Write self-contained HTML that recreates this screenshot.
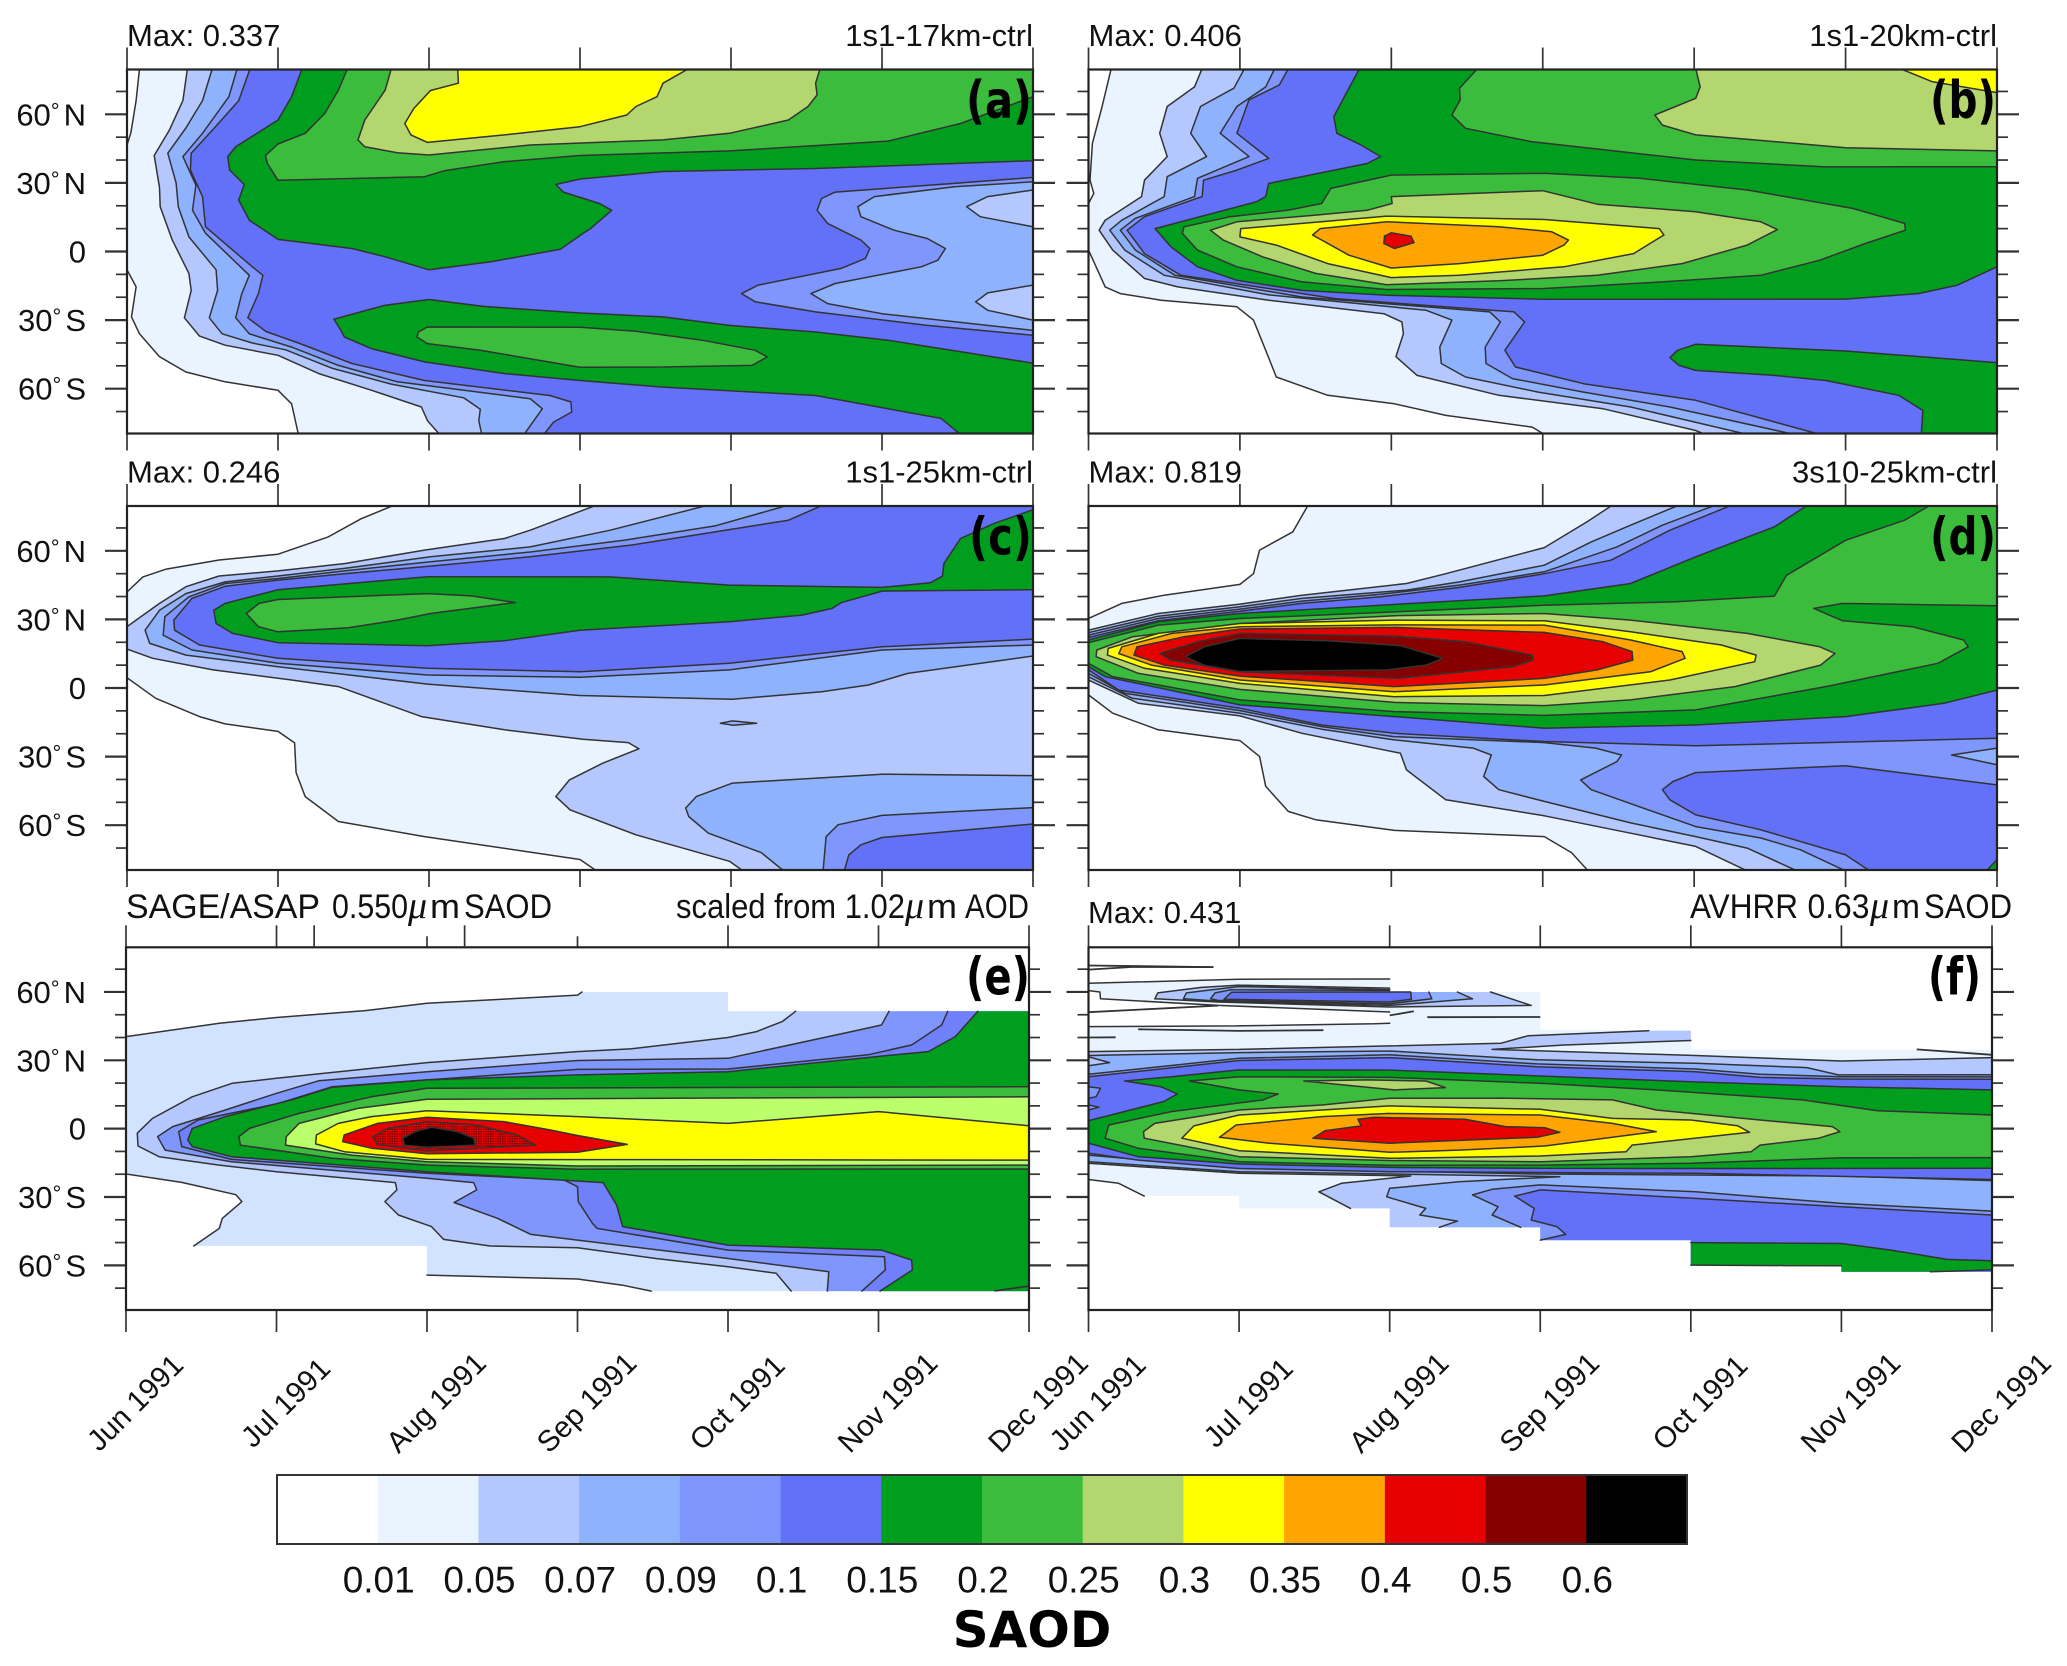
<!DOCTYPE html>
<html lang="en">
<head>
<meta charset="utf-8">
<title>SAOD zonal mean panels</title>
<style>
html,body{margin:0;padding:0;background:#fff;width:2067px;height:1666px;overflow:hidden}
svg{display:block}
text{font-family:"Liberation Sans",sans-serif;fill:#111}
.ttl{font-size:31px}
.big{font-size:34px}
.lab{font-family:"DejaVu Sans","Liberation Sans",sans-serif;font-size:52px;font-weight:bold;text-anchor:end;fill:#000}
.mu{font-family:"Liberation Serif",serif;font-style:italic;font-size:38px}
</style>
</head>
<body>
<svg id="chart" xmlns="http://www.w3.org/2000/svg" width="2067" height="1666" viewBox="0 0 2067 1666">
<defs>
<pattern id="stipple" width="2.4" height="2.4" patternUnits="userSpaceOnUse">
<rect width="2.4" height="2.4" fill="#e60000"/>
<circle cx="1.2" cy="1.2" r="0.8" fill="#6a0000"/>
</pattern>
</defs>
<g id="plots"></g>

<text class="ttl" x="127" y="46">Max: 0.337</text>
<text class="ttl" x="1033" y="46" text-anchor="end">1s1-17km-ctrl</text>
<text class="lab" x="1032" y="118" textLength="66" lengthAdjust="spacingAndGlyphs">(a)</text>

<text class="ttl" x="1088.5" y="46">Max: 0.406</text>
<text class="ttl" x="1997" y="46" text-anchor="end">1s1-20km-ctrl</text>
<text class="lab" x="1996" y="118" textLength="66" lengthAdjust="spacingAndGlyphs">(b)</text>

<text class="ttl" x="127" y="482.7">Max: 0.246</text>
<text class="ttl" x="1033" y="482.7" text-anchor="end">1s1-25km-ctrl</text>
<text class="lab" x="1032" y="554.6" textLength="63" lengthAdjust="spacingAndGlyphs">(c)</text>

<text class="ttl" x="1088.5" y="482.7">Max: 0.819</text>
<text class="ttl" x="1997" y="482.7" text-anchor="end">3s10-25km-ctrl</text>
<text class="lab" x="1996" y="554.6" textLength="66" lengthAdjust="spacingAndGlyphs">(d)</text>

<g>
<text class="big" x="126" y="918" textLength="194" lengthAdjust="spacingAndGlyphs">SAGE/ASAP</text>
<text class="big" x="332" y="918" textLength="76" lengthAdjust="spacingAndGlyphs">0.550</text>
<text class="mu" x="408" y="918">μ</text>
<text class="big" x="430" y="918" textLength="30" lengthAdjust="spacingAndGlyphs">m</text>
<text class="big" x="464" y="918" textLength="88" lengthAdjust="spacingAndGlyphs">SAOD</text>
</g>
<g>
<text class="big" x="676" y="918" textLength="229" lengthAdjust="spacingAndGlyphs">scaled from 1.02</text>
<text class="mu" x="905" y="918">μ</text>
<text class="big" x="927" y="918" textLength="30" lengthAdjust="spacingAndGlyphs">m</text>
<text class="big" x="965" y="918" textLength="64" lengthAdjust="spacingAndGlyphs">AOD</text>
</g>
<text class="lab" x="1030" y="994.5" textLength="64" lengthAdjust="spacingAndGlyphs">(e)</text>

<text class="ttl" x="1088" y="923">Max: 0.431</text>
<g>
<text class="big" x="1690" y="918" textLength="108" lengthAdjust="spacingAndGlyphs">AVHRR</text>
<text class="big" x="1807.5" y="918" textLength="62" lengthAdjust="spacingAndGlyphs">0.63</text>
<text class="mu" x="1870" y="918">μ</text>
<text class="big" x="1892" y="918" textLength="28" lengthAdjust="spacingAndGlyphs">m</text>
<text class="big" x="1924" y="918" textLength="88" lengthAdjust="spacingAndGlyphs">SAOD</text>
</g>
<text class="lab" x="1981" y="994.5" textLength="53" lengthAdjust="spacingAndGlyphs">(f)</text>

<g id="colorbar"></g>
<text x="1032" y="1647" text-anchor="middle" font-size="50" font-weight="bold" style="fill:#000;font-family:'DejaVu Sans','Liberation Sans',sans-serif">SAOD</text>
</svg>

<script>
// Axis content
const monthLabels = ['Jun 1991','Jul 1991','Aug 1991','Sep 1991','Oct 1991','Nov 1991','Dec 1991'];
const latMajor = [60,30,0,-30,-60];
const latMajorLabels = ['60|N','30|N','0','30|S','60|S'];
const latMinor = [70,50,40,20,10,-10,-20,-40,-50,-70];
const saodLevels = ['0.01','0.05','0.07','0.09','0.1','0.15','0.2','0.25','0.3','0.35','0.4','0.5','0.6'];
const levelColors = ['#ffffff','#eaf4ff','#b4c8ff','#8fb2ff','#7f96ff','#6271f8','#009e1e','#3cbc3c','#b4d66e','#ffff00','#ffa500','#e60000','#870000','#000000'];

// All contour vertices are flat [month-since-Jun-1, latitude, ...] pairs.
// Panel (a)
const a1=[.083,80,.06,66,.026,52,0,46.6,0,-8,.06,-15.5,.03,-28.6,.083,-36,.215,-46,.39,-52.7,.65,-57,1,-60.7,1.09,-66.6,1.135,-80,6,-80,6,80];
const a2=[.40,80,.37,66,.28,53,.18,42,.215,28,.22,19.6,.30,5,.41,-9.6,.425,-17,.38,-29,.48,-37,.65,-41,1,-45.4,1.27,-53.4,1.62,-60.7,1.95,-68,1.99,-74,2.07,-80,6,-80,6,80];
const a3=[.565,80,.5,66,.39,54,.27,43,.325,30,.34,19.6,.41,6.4,.59,-8,.60,-17,.545,-29,.63,-36,.83,-40,1.05,-43,1.355,-51,1.75,-58,2.23,-64,2.34,-69,2.33,-74,2.35,-80,6,-80,6,80];
const a4=[.73,80,.675,67.7,.5,51.7,.37,41.5,.456,29,.434,18,.52,8,.81,-10.4,.76,-18.4,.72,-29,.81,-36,1.09,-41.8,1.40,-49.8,1.79,-57,2.67,-64.4,2.75,-68.8,2.63,-80,6,-80,6,80];
const a5=[.815,80,.74,66,.565,53,.425,43,.42,35.6,.5,24,.52,10.8,.83,-6.7,.90,-10.4,.87,-18.4,.80,-29,.92,-35,1.135,-40,1.49,-49,1.97,-56.4,2.80,-63,2.94,-65.8,2.945,-70.2,2.825,-74.6,2.76,-80,6,-80,6,80];
const a4hole=[6,32.4,5.48,29.8,4.69,26,4.6,23.2,4.57,18,4.64,12.3,4.86,5,4.92,1.3,4.89,-3,4.73,-7.4,4.18,-14.7,4.07,-18.4,4.16,-22,4.56,-26.4,5.3,-32.3,6,-36.6];
const a3hole=[6,30.5,5.48,28.3,4.95,24,4.84,19.6,4.86,15.2,5.08,9.3,5.3,5.7,5.42,1.3,5.37,-3.8,5.26,-6.7,4.69,-14,4.53,-18.4,4.64,-22.8,5,-27.2,6,-34.5];
const a2holeN=[6,26.9,5.7,24,5.56,19.6,5.65,15.2,6,10.8];
const a2holeS=[6,-14.7,5.7,-18.1,5.62,-22,5.7,-25.7,6,-30];
const a6N=[1.16,80,1.09,67.7,1,57.5,.72,45.8,.667,41.5,.68,35.6,.776,29.3,.74,22.5,.81,13.7,1,5.3,1.49,1.3,1.71,-2.3,2,-8,2.41,-4.5,2.87,1,3.02,7.9,3.07,10,3.21,18,3.13,21,2.89,26,2.84,29.3,3,31.7,3.55,35,4.56,36.3,6,39.7,6,80];
const a7N=[1.46,80,1.40,70.6,1.31,60.4,1.18,51.7,1,47,.917,42,.93,38.5,1,31.2,1.97,32.7,2.1,35.3,2.5,39.3,3,42,3.99,44,5.04,48.3,5.52,56,6,67.7,6,80];
const a8=[1.75,80,1.71,70.6,1.575,57.5,1.53,48.8,1.575,45.8,1.79,43.2,2,42.2,2.67,46.6,3.55,48.8,3.99,51.7,4.38,57.5,4.51,63.4,4.57,68.5,4.56,73.6,4.59,80];
const a9=[2.19,80,2.195,73.6,2.01,70.4,1.90,62.6,1.84,56,1.88,51,1.99,47.7,2.5,51,3,54.6,3.31,59.7,3.37,63.4,3.51,67.7,3.55,73.6,3.72,80];
const a6S=[1.37,-29.6,1.71,-23.5,2,-21,2.36,-24,3,-26.9,3.55,-28.6,3.99,-32.3,4.56,-35.2,5.04,-38.8,6,-48.8,6,-80,5.52,-80,5.39,-73,5.04,-68.8,4.56,-63,3.55,-59.3,3,-56.4,2.5,-53.4,1.97,-48.3,1.62,-42.5,1.44,-37.4,1.41,-33.7];
const a7S=[1.99,-33,3,-33.1,3.37,-34.9,3.81,-38.8,4.16,-43.2,4.24,-46.1,4.14,-49.8,3.55,-50.5,3,-50.6,2.34,-43.2,1.99,-40.3,1.92,-37.4,1.93,-35.2];
const panelARegions=[[1,a1],[2,a2],[3,a3],[4,a4],[5,a5],[4,a4hole],[3,a3hole],[2,a2holeN],[2,a2holeS],[6,a6N],[7,a7N],[8,a8],[9,a9],[6,a6S],[7,a7S]];

// Panel (b)
const b1=[.15,80,.09,63.4,.026,47.3,.01,31.2,.035,25.4,0,21,0,.6,.05,-6.7,.11,-15.5,.21,-18.4,.48,-21.3,.98,-24.2,1.09,-30,1.17,-43.2,1.24,-54.9,1.58,-62.9,2.02,-66.6,2.36,-71.7,2.93,-76.8,3.01,-80,6,-80,6,80];
const b2=[.75,80,.70,72,.52,63.4,.47,51.7,.52,41.5,.37,31.2,.35,24,.11,13.7,.07,9.3,.16,.6,.37,-11.8,.59,-15.5,1.19,-21.3,1.95,-27.2,2.07,-30.8,2.08,-36,2.03,-46,2.17,-54.2,2.71,-62.9,3.4,-68.8,4.01,-78.3,4.07,-80,6,-80,6,80];
const b3=[1.03,80,.96,71.4,.74,63.4,.675,51.7,.78,41.5,.52,32.7,.50,24,.22,13.7,.14,9.3,.24,.6,.5,-10.4,1.19,-19,2.23,-25.7,2.40,-30,2.32,-41.8,2.33,-49,2.49,-54.9,2.97,-61.5,3.58,-68,4.35,-80,6,-80,6,80];
const b4=[1.23,80,1.17,72,.98,63.4,.87,51.7,1.06,41.5,.72,32,.70,24,.31,14.5,.21,9.3,.31,.6,.57,-10.4,1.41,-19.9,2.65,-26.4,2.72,-30.8,2.62,-41.8,2.625,-49,2.80,-55.6,3.27,-61.5,3.84,-68,4.66,-80,6,-80,6,80];
const b5=[1.32,80,1.26,72.8,1.06,66.3,.98,51.7,1.19,40.7,.98,35.6,.76,31.2,.75,24,.37,15.2,.255,9.3,.37,-.9,.61,-10.4,1.63,-20.6,2.81,-26.4,2.88,-30.8,2.75,-43.2,2.82,-50.5,3.27,-57.8,4.01,-65.1,4.83,-80,6,-80,6,80];
const b6=[1.79,80,1.69,67.7,1.62,59,1.64,51.7,1.80,46.6,1.93,41.5,1.84,38.5,1.19,29.8,1.17,24,1.11,21.8,.44,10,.545,2,.72,-6.7,.98,-12.6,1.41,-17,1.97,-19.1,3.01,-20.9,5,-20.8,5.48,-18.4,5.74,-14.7,6,-6.7,6,80];
const b7N=[2.57,80,2.45,71.4,2.455,66.3,2.4,59.7,2.49,53.9,2.93,48,4.01,40,4.87,37,6,37.1,6,80];
const b8N=[4.01,80,4.04,72,4.01,67,3.74,59.7,3.79,55.3,4.01,51,5,45.4,6,44,6,80];
const b9N=[5.36,80,5.57,74.3,6,69.5,6,80];
const b7C=[2,33.4,3.01,34.2,3.64,32,4.35,26.9,5.05,18.8,5.39,12.3,5.395,9.3,5.13,3.5,4.83,-3.8,4.44,-10.4,3.79,-13.3,3.01,-16.2,1.97,-16.6,1.41,-13.3,.98,-6.7,.72,.6,.62,7.9,.63,10.8,.935,15.2,1.32,18.1,1.54,21,1.6,27.6];
const b8C=[2,24,3,26.6,3.36,20.7,4.01,17.4,4.44,13,4.55,9.6,4.35,2.8,3.92,-5.3,3.36,-10.4,2.71,-12.8,1.97,-14.5,1.5,-9.6,1.15,-2.3,.89,5,.805,9.3,.98,13,1.5,15.9,1.84,18,2.005,21];
const b9C=[1.97,15.5,3.01,14,3.77,10,3.8,7.2,3.6,-.9,3.14,-6.7,2.45,-10.4,2,-11.4,1.58,-5.3,1.24,2.8,1,6.4,1.005,10];
const b10=[1.97,13,2.71,10.8,3.06,8.6,3.17,5,3.14,2.8,3.0,-1.6,2.45,-5.3,2,-7.2,1.72,-1.6,1.48,7.2,1.53,10];
const b11=[2,8.2,2.13,6.7,2.15,3.9,2.02,1.3,1.95,3.5,1.955,6.7];
const b6S=[4.01,-40.6,5,-43.5,6,-48.6,6,-80,5.5,-80,5.51,-69.5,5.35,-62.9,4.87,-56.4,4.53,-54.2,4.01,-52,3.9,-49.8,3.84,-46.4,3.89,-43.2];
const panelBRegions=[[1,b1],[2,b2],[3,b3],[4,b4],[5,b5],[6,b6],[7,b7N],[8,b8N],[9,b9N],[7,b7C],[8,b8C],[9,b9C],[10,b10],[11,b11],[6,b6S]];

// Panel (c)
const c1=[1.77,80,1.55,74,1.33,66,1,58.5,.61,56,.26,52,.105,48.6,0,42,0,4.5,.19,-4.5,.48,-12.5,.65,-15.7,1,-19,1.11,-24,1.12,-37,1.18,-47.5,1.4,-58.4,1.97,-65,3,-75,3.11,-80,6,-80,6,80];
const c2=[3.11,80,2.67,69,2.5,65.4,1.97,60.3,1.44,54.4,1,51.2,.61,49,.39,44.3,.215,37,0,26.8,0,17,.17,13,.57,7.9,1.09,3.5,1.4,.6,1.95,-12.5,2.5,-18.3,3.02,-22.4,3.32,-23.9,3.39,-26.6,3.15,-32.9,2.93,-40.2,2.84,-47.5,2.935,-53.3,3.37,-64.2,3.99,-75.8,4.08,-80,6,-80,6,80];
const c3=[3.85,80,3.2,69,2.67,61.7,2.01,57.4,1.44,52.3,1,49,.65,46.4,.39,41.3,.215,34,.12,25.3,.15,19.5,.39,14.4,1,9.3,1.99,1.7,3,-3.3,4.01,-4.9,4.6,-1.6,4.91,1.3,5.17,6.4,6,14,6,80];
const c3S=[4.01,-41.6,5,-37.7,6,-38.3,6,-80,4.35,-80,4.2,-72,3.85,-63.5,3.72,-56.2,3.7,-52.5,3.77,-47.5];
const cIsland=[3.93,-15.4,4.01,-14.4,4.17,-15.4,4.015,-16.3];
const c4=[4.38,80,3.9,71,3.29,64.6,2.67,59.5,2.01,55.2,1.44,51.2,1,47.9,.65,45.7,.41,39.9,.25,31.2,.24,23.1,.43,16.6,1,10.8,1.99,5.7,3,4.7,3.99,7.9,5,16.6,6,18.8,6,80];
const c4S=[5,-55.7,6,-52.3,6,-80,4.61,-80,4.63,-65,4.71,-59.8];
const c5=[4.61,80,4.38,73.4,3.9,68.3,3.33,62.4,2.67,57.4,2.01,53.3,1.44,50,1,47.2,.65,44.5,.43,39.2,.31,29.7,.315,25.3,.48,18.8,1,13,1.99,8.6,3,7.1,3.99,10.8,5,18,6,21.4,6,80];
const c5S=[5,-65.4,6,-59.5,6,-80,4.75,-80,4.78,-73,4.86,-68.6];
const c6=[6,78,5.74,71.9,5.52,65.4,5.41,54.4,5.4,48.9,5.32,46,5,44,3.99,45,3.2,48.6,1.99,48.7,1,43,.65,37,.575,34,.59,28.2,.70,23.9,1,19.8,1.99,18.5,2.5,20.7,3,25.3,3.99,29,4.47,31.9,4.67,34.8,4.73,37.3,5,42.4,6,43];
const c7=[1,38.7,1.99,41.3,2.28,40.3,2.57,37.4,2.01,32.6,1.79,29.7,1.46,26.3,1,24.6,.87,26.8,.79,32.6,.875,37];
const panelCRegions=[[1,c1],[2,c2],[3,c3],[3,c3S],[3,cIsland],[4,c4],[4,c4S],[5,c5],[5,c5S],[6,c6],[7,c7]];

// Panel (d)
const d1=[1.45,80,1.35,68.3,1.13,60.3,1.09,50,1,45.3,.5,40.6,.22,37,0,30.4,0,-3,.16,-11,.46,-18.3,1,-23,1.13,-30,1.17,-43,1.32,-54,1.5,-57.6,2.02,-62.3,3.01,-65,3.19,-72,3.3,-80,6,-80,6,80];
const d2=[3.46,80,3.29,72.6,3.01,61.4,2.36,50,2.1,45.7,1.41,40.6,1,36.7,.46,32.6,0,25.3,0,3.5,.33,-6.7,1,-12.2,1.41,-19.8,2.06,-28.5,2.1,-35.8,2.36,-48.9,3.01,-55.9,3.58,-63.5,4.01,-69.3,4.35,-80,6,-80,6,80];
const d3=[3.9,80,3.58,71.2,3.32,63.9,3.01,53.7,2.45,46.4,2.1,42.8,1.41,39.2,1,35.5,.46,31.4,0,24.2,0,4.9,.29,-4.5,1,-11,1.54,-18,2.02,-22.7,2.54,-26.3,2.66,-29.3,2.61,-38.7,2.71,-44.5,3.01,-49.6,3.58,-59,4.01,-65,4.35,-70,4.68,-80,6,-80,6,80];
const d4=[4.14,80,3.79,71.2,3.49,61.7,3.01,50.8,2.45,45,1.93,41,1.41,38,1,34.5,.46,30.4,0,23.1,0,6.4,.24,-2.3,1,-9.9,1.54,-16.9,2.02,-21.3,3.01,-23.9,3.35,-26.3,3.52,-29.3,3.49,-32.2,3.25,-40.2,3.32,-44.5,4.01,-60.6,4.44,-65.6,4.7,-70.7,5,-80,6,-80,6,80];
const d5=[4.25,80,3.84,69,3.45,55.9,3.01,50,2.45,44,1.93,39.9,1.41,37,1,33.6,.46,29.4,0,22.1,0,7.9,.2,-.9,1,-8.9,1.54,-16.2,2.02,-19.8,3.01,-23.4,4.01,-25.3,6,-22,6,80];
const d5S=[4.01,-37,5,-34,6,-42.4,6,-80,5.16,-80,5,-73,4.44,-62,4.01,-55.5,3.84,-48.9,3.79,-44.5,3.86,-40.9];
const d3hole=[6,-26.3,5.7,-29.3,6,-33.6];
const d6=[4.75,80,4.53,70.5,4.01,57.4,3.58,45.7,3.01,40.3,1.93,36.2,1,32.6,.46,29,0,21,0,9.3,.11,5,1,-7.4,2.02,-12.5,3.01,-17.6,4.01,-16.2,5,-12.5,5.65,-6.7,6,-.9,6,80];
const d6corner=[6,-75,5.93,-80,6,-80];
const d7=[5.56,80,5.39,73.4,5,64.6,4.61,49.3,4.53,40.2,3.88,37.7,3.01,36.2,2.02,33.3,1,30.4,.46,27.5,0,19.8,0,10.8,.16,5,1,-5.2,2.02,-10.3,3.01,-12,4.01,-9.6,4.87,.6,5.61,10.8,5.81,18,5.78,21,5.44,26.8,4.98,29.4,4.79,34.8,4.98,37,6,36,6,80];
const d8=[3.01,32.6,3.58,29.7,4.35,23.9,4.83,18,4.93,15.1,4.835,10,4.27,.6,3.58,-5.2,3.01,-7.7,2.02,-6.3,1,-.6,.33,6.4,.05,13.7,.055,16.6,.29,22.4,1,28.2,2.02,31.6];
const d9=[3.01,29.4,3.58,24.6,4.18,18.8,4.41,14.4,4.4,11.5,3.84,3.5,3.01,-3.3,2.02,-3.8,1,2,.37,8.6,.125,14.4,.13,17.3,.46,23.9,1,28.2,2.02,29.7];
const d10=[3.01,27.5,3.58,21,3.92,15.9,3.94,13,3.71,7.1,3.01,1.3,2.02,-1.6,1,3.5,.415,10,.2,15.1,.22,18,.55,23.9,1,26.8,2.02,27.6];
const d11=[3.01,24.3,3.4,20.2,3.59,15.9,3.595,12.2,3.36,7.9,3.01,4.2,2.02,.6,1,5.2,.5,10,.3,14.4,.32,18,.63,22.4,1,25.8,2.02,26.5];
const d12=[2.02,22.7,2.49,20.2,2.93,14.4,2.935,12.2,2.8,9.3,2.04,4.2,1,7.1,.545,12.2,.47,15.1,.72,20.2,1,23.9];
const d13=[1,21.7,1.58,20.7,2.06,18.5,2.34,13,2.23,10,1.97,7.9,1,7.2,.76,10,.64,13.7,.765,18];
const panelDRegions=[[1,d1],[2,d2],[3,d3],[4,d4],[5,d5],[5,d5S],[3,d3hole],[6,d6],[6,d6corner],[7,d7],[8,d8],[9,d9],[10,d10],[11,d11],[12,d12],[13,d13]];

// Panel (e)
const e1=[0,40.4,.62,46.3,1,48.8,1.59,51.8,2,55,3,58.6,3.03,60,4,60,4,51.5,6,51.5,6,-71.3,3.49,-71.3,3.3,-68.7,3,-66,2,-64.3,2,-51.5,.45,-51.5,.62,-43.8,.64,-39.4,.77,-32,.73,-29,.37,-23.6,0,-19.9];
const e2=[4.45,51.5,4.36,47,4.19,42.6,4,40,3.35,35,3,33.8,2,29,1,22.1,.705,19.9,.44,14,.176,4.5,.075,-2,.08,-7.6,.22,-12.3,.62,-16,1,-18.9,1.79,-23.7,1.8,-26.9,1.72,-32,1.81,-37.9,2.03,-43,2.11,-48.6,2.42,-51.5,3,-52.3,3.52,-57,4,-60.6,4.32,-63.5,4.42,-71.3,6,-71.3,6,51.5];
const e4=[5.07,51.5,5.02,45.5,4.87,43.3,4,30.9,3,29.9,2,25,1.28,21,1,15.5,.66,8.2,.31,.9,.21,-3.5,.26,-9.4,.7,-14.5,2,-21.8,2.31,-23.7,2.33,-26.9,2.18,-32.4,2.47,-39.4,2.69,-46.4,3,-48.9,4,-57,4.67,-62.8,4.66,-71.3,6,-71.3,6,51.5];
const e5=[5.46,51.5,5.42,45.5,5.22,36.7,4.93,32.4,4,26.2,3,26,2,21.4,1.37,18.4,1.01,11,.48,3.8,.35,-1.3,.37,-7.9,.7,-13.5,2,-19.6,2.91,-22.5,3,-25.5,3.005,-32,3.1,-41.6,3.13,-43.8,4,-53.3,5.04,-56.2,5.045,-62,4.89,-71.3,6,-71.3,6,51.5];
const e6=[5.66,51.5,5.51,40.4,5.33,33.8,4.98,31.6,4,25,3,23.6,2,21.4,1.37,18.2,1.1,12.6,.66,5.3,.44,.1,.41,-5,.44,-7.9,.7,-12.3,2,-18.9,3.17,-23.7,3.26,-33.5,3.3,-43,4,-51.1,5.02,-53.3,5.22,-57.7,5.225,-62,5.01,-71.3,6,-71.3,6,51.5];
const e7=[2,17.7,6,18.4,6,-17.7,3,-17.8,2,-16,1.37,-13,.76,-7.2,.75,-3.5,.82,.1,1.15,6.7,1.63,14];
const e8=[2,12.9,6,14,6,-16,3,-16.4,2,-14.5,1.5,-11.6,1.06,-7.2,1.065,-3.5,1.15,2.3,1.54,8.9];
const e9=[2,7.9,3,5.3,4,2.3,5,7.5,6,1.3,6,-13.8,3,-13.6,2,-13.5,1.45,-10.1,1.26,-6.7,1.265,-2.8,1.41,2.3,1.63,5.3];
const e11=[2,5,2.51,3.1,2.82,-.6,3,-3,3.33,-6.9,3,-10.4,2,-11,1.63,-8.6,1.44,-5.7,1.45,-2.8,1.67,2.3];
const e12=[2,3.1,2.33,1.6,2.6,-2.8,2.72,-7.2,2,-9.7,1.67,-6.9,1.64,-3.5,1.74,.1];
const e13=[2.03,.6,2.2,-1.3,2.31,-4.2,2.32,-7.2,2,-8.2,1.85,-7.2,1.84,-4.2,1.92,-1.3];
const panelERegions=[[1,e1],[2,e2],[4,e4],[5,e5],[6,e6],[7,e7],[8,e8],[9,e9],[11,e11],[12,e12],[13,e13]];
const eContourA=[5.77,-71.2,6,-69.1];
const panelELines=[eContourA];

// Panel (f)
const f1=[0,63.8,1,65.6,2,65.7,2,60,3,60,3,43.3,4,43.3,4,34.6,6,34.6,6,-62.8,5,-62.8,5,-59.9,4,-59.9,4,-48.9,3,-48.9,3,-43.3,2,-43.3,2,-35,1,-35,1,-29.6,.37,-29.6,.2,-24,0,-22.3,0,44.8,.98,45.1,1.9,46,2,46.3,2,51.2,.86,54.1,.08,57,.076,60,0,60.6];
const f2top=[.44,57,.46,59.6,.75,62,1,63,2,61.7,2,60,2.67,60,2.94,54.1,2,53.4,.86,55.6];
const f3top=[.63,57,.65,59.6,1,62.4,2,61,2,60,2.45,60,2.55,57,2,54.1,.86,56];
const f4top=[.81,57,.84,59.6,.95,61,2,60.7,2,60,2.26,60,2.28,57,2,54.8,.86,56.3];
const f5top=[.9,56.8,.95,59.9,2.14,60,2.145,56.8,2,55.6];
const f2=[0,33.8,1,34.8,2,36.3,2.74,37.5,2.92,40.8,3.72,43,4,43,4,38.7,3.16,36.7,2.68,34.8,4.03,32.1,5,29.7,6,31.2,6,-62.8,5,-62.8,5,-59.9,4,-59.9,4,-48.9,3,-48.9,3,-43.3,2,-43.3,2,-35,1.74,-35,1.53,-27.7,1.68,-24,2.14,-20.8,1,-19.6,0,-15.2];
const f3=[0,32.1,1,33.4,2,34.1,2.98,30.2,4.03,28.7,4.77,26.8,4.98,23.6,6,23.7,6,-62.8,5,-62.8,5,-59.9,4,-59.9,4,-48.9,3,-48.9,3,-43.3,2.33,-43.3,2.45,-40.6,2.2,-37.9,2.24,-35,1.98,-29.9,2,-26.2,2.46,-23.3,3.13,-21.1,1,-18.9,0,-14.5];
const f2wedge=[0,31.5,.14,29,0,27.6];
const f4=[0,23.9,1,30.9,2,32.4,2.98,28.4,4.03,26.2,4.46,23.9,5,22.8,6,22.7,6,-22.8,5,-20.8,3,-19.9,1,-17.4,0,-11.6];
const f5=[0,22.8,1,29.9,2,31.2,2.98,27.2,4.03,25,4.46,22.5,5,21.8,6,21.7,6,-22.3,4.03,-19.6,2,-18.9,1,-17.5,.33,-13.8,0,-10.8];
const f4nub1=[0,18.4,.08,17.7,.05,14,0,13.3];
const f4nub2=[0,10.4,.07,9.4,0,8.2];
const f6=[1,25.8,2,25.7,3,23.1,4,20.6,5,18.4,6,17,6,-17.4,4,-17.5,3,-17.4,2,-17,1,-15.5,.33,-12.3,0,-6.4,0,3.5,.5,11.9,.59,15.2,.48,18.4,.24,20.9,.55,22.8];
const f7=[.67,20.9,1,22.8,2,22.5,3,19.9,3.77,17,4.74,12.6,5.24,7.9,6,6,6,-12.7,5,-12.8,4,-15.2,3,-16,2,-16.1,1,-14.5,.33,-8.6,.11,-4.2,.135,1.6,.55,7.5,1.16,12.6,1.26,15.2,1,17];
const f8island=[1.43,20.9,1.85,21.4,2.24,20.9,2.37,18,2.03,17];
const f8=[2,13.3,2.72,13.4,3.48,12.6,3.77,8.2,4.46,3.8,4.94,.9,4.99,-1.3,4.85,-4.2,4.46,-7.2,4.4,-10.1,4,-12.3,3,-14.5,2,-14,1,-12.3,.37,-4.2,.365,-1.3,.44,2.3,1,8.2,1.55,10.4];
const f9=[2,10,3,8.5,3.48,4.5,4,3.8,4.31,1.3,4.39,-1.6,3.61,-7.2,3.57,-10.1,3,-12,2,-13,1,-9.7,.62,-4.2,.7,1.2,1,6,1.55,8.2];
const f10=[2,6.7,3,6,3.48,2.3,3.77,-1.3,3.03,-7.6,2.46,-9.4,2,-10.4,1.2,-6.4,.87,-3.8,.98,1.6,1.55,5.3];
const f11=[1.9,5,2.5,4.1,2.77,.9,3.03,.4,3.13,-1.6,2.98,-3.8,2,-6.4,1.49,-4.2,1.57,-.9,1.81,1.2,1.79,4.1];
const f4low=[2.55,-29.1,2.68,-26.6,3,-24.7,4.03,-27.7,5,-32.8,6,-36.2,6,-62.8,5,-62.8,5,-59.9,4,-59.9,4,-48.9,3,-48.9,3,-43.3,2.87,-43.3,2.68,-37.9,2.72,-34.3];
const f5low=[2.83,-29.6,3,-26.9,4.03,-30.6,5,-34.3,6,-37.9,6,-62.8,5,-62.8,5,-59.9,4,-59.9,4,-48.9,3,-48.9,3.17,-46.4,3.11,-43,2.94,-40.1,2.96,-35];
const f6low=[4,-50,5,-50.4,5.33,-53.3,5.7,-57.4,6,-58,6,-62,5.59,-62.8,5,-62.8,5,-60.2,4.63,-60.1,4,-59.9];
const panelFRegions=[[1,f1],[2,f2top],[3,f3top],[4,f4top],[5,f5top],[2,f2],[3,f3],[2,f2wedge],[4,f4],[5,f5],[4,f4nub1],[4,f4nub2],[6,f6],[7,f7],[8,f8island],[8,f8],[9,f9],[10,f10],[11,f11],[4,f4low],[5,f5low],[6,f6low]];
const fContourA=[0,71.6,.83,70.9];
const fContourB=[0,69.8,.3,71,.83,70.9];
const fContourC=[0,51.1,.86,54];
const fContourD=[.33,43.6,1,42.9,1.56,43.2];
const fContourE=[0,40,.18,40.1];
const fContourF=[2.25,48.9,3,49];
const fContourG=[2,49.7,2.16,51.5];
const fContourH=[5.5,34.8,6,32.4];
const panelFLines=[fContourA,fContourB,fContourC,fContourD,fContourE,fContourF,fContourG,fContourH];

const LAT_EDGE=79.6;
const panels=[
 {id:'a',L:127,R:1033,T:69.5,B:433.5,bot:17,regions:panelARegions,lines:[],yLabels:true},
 {id:'b',L:1088.5,R:1997,T:69.5,B:433.5,bot:17,regions:panelBRegions,lines:[],yLabels:false},
 {id:'c',L:127,R:1033,T:506,B:870,bot:17,regions:panelCRegions,lines:[],yLabels:true},
 {id:'d',L:1088.5,R:1997,T:506,B:870,bot:17,regions:panelDRegions,lines:[],yLabels:false},
 {id:'e',L:126,R:1029,T:947.3,B:1310,bot:22,regions:panelERegions,lines:panelELines,yLabels:true,xLabels:true,
  colors:{1:'#d2e3ff',5:'#6f80fa',8:'#bbff6a',12:'url(#stipple)'}},
 {id:'f',L:1088.5,R:1992,T:947.3,B:1310,bot:22,regions:panelFRegions,lines:panelFLines,yLabels:false,xLabels:true}
];

const NS='http://www.w3.org/2000/svg';
function mk(parent,tag,attrs){
  const n=document.createElementNS(NS,tag);
  for(const k in attrs){n.setAttribute(k,attrs[k]);}
  parent.appendChild(n);
  return n;
}
function xScale(p,t){return p.L+t*(p.R-p.L)/6;}
function yScale(p,lat){return (p.T+p.B)/2-lat*(p.B-p.T)/(2*LAT_EDGE);}
function fillPath(p,a){
  let d='';
  for(let i=0;i<a.length;i+=2){d+=(i?'L':'M')+xScale(p,a[i]).toFixed(1)+' '+yScale(p,a[i+1]).toFixed(1);}
  return d+'Z';
}
function strokePath(p,a,closed){
  // Segments exactly along an axis are panel edges or missing-data steps: no contour line there.
  let d='';
  const n=a.length/2;
  const cnt=closed?n:n-1;
  for(let i=0;i<cnt;i++){
    const j=(i+1)%n;
    const t0=a[2*i],l0=a[2*i+1],t1=a[2*j],l1=a[2*j+1];
    if(t0===t1||l0===l1){continue;}
    d+='M'+xScale(p,t0).toFixed(1)+' '+yScale(p,l0).toFixed(1)+'L'+xScale(p,t1).toFixed(1)+' '+yScale(p,l1).toFixed(1);
  }
  return d;
}
const plots=document.getElementById('plots');
const defs=document.querySelector('defs');
panels.forEach(function(p){
  const g=mk(plots,'g',{});
  
  
  const clip=mk(defs,'clipPath',{id:'clip-'+p.id});
  mk(clip,'rect',{x:p.L,y:p.T,width:p.R-p.L,height:p.B-p.T});
  const body=mk(g,'g',{'clip-path':'url(#clip-'+p.id+')'});
  p.regions.forEach(function(r,i){
    const lvl=r[0];
    const col=(p.colors&&p.colors[lvl])||levelColors[lvl];
    const f=mk(body,'path',{d:fillPath(p,r[1]),fill:col,stroke:'none'});
    
    
    const s=mk(body,'path',{d:strokePath(p,r[1],true),fill:'none',stroke:'#333','stroke-width':1.5,'stroke-linecap':'round'});
    
    
  });
  p.lines.forEach(function(a){
    const s=mk(body,'path',{d:strokePath(p,a,false),fill:'none',stroke:'#333','stroke-width':1.8});
    
    
  });
  // ticks
  const ticks=mk(g,'g',{stroke:'#333','stroke-width':1.7,fill:'none'});
  
  
  monthLabels.forEach(function(m,i){
    const x=xScale(p,i);
    let topLen=22;
    if(p.id==='e'&&(i===2||i===3)){topLen=11;}
    mk(ticks,'line',{x1:x,x2:x,y1:p.T-topLen,y2:p.T});
    mk(ticks,'line',{x1:x,x2:x,y1:p.B,y2:p.B+p.bot});
  });
  latMajor.forEach(function(l){
    const y=yScale(p,l);
    mk(ticks,'line',{x1:p.L-22,x2:p.L,y1:y,y2:y,'stroke-width':2.2});
    mk(ticks,'line',{x1:p.R,x2:p.R+22,y1:y,y2:y,'stroke-width':2.2});
  });
  latMinor.forEach(function(l){
    const y=yScale(p,l);
    mk(ticks,'line',{x1:p.L-11,x2:p.L,y1:y,y2:y});
    mk(ticks,'line',{x1:p.R,x2:p.R+11,y1:y,y2:y});
  });
  const frame=mk(g,'rect',{x:p.L,y:p.T,width:p.R-p.L,height:p.B-p.T,fill:'none',stroke:'#222','stroke-width':2.2});
  
  
  // y labels
  if(p.yLabels){
    latMajor.forEach(function(l,i){
      const y=yScale(p,l)+11;
      const parts=latMajorLabels[i].split('|');
      const t=mk(g,'text',{x:86,y:y,'text-anchor':'end','font-size':31});
      
      
      if(parts.length===1){t.textContent=parts[0];}
      else{
        t.appendChild(document.createTextNode(parts[0]));
        const d=mk(t,'tspan',{'font-size':22,dy:-7});
        d.textContent='°';
        const h=mk(t,'tspan',{dy:7,dx:4});
        h.textContent=parts[1];
      }
    });
  }
  // x labels
  if(p.xLabels){
    monthLabels.forEach(function(m,i){
      const cx=xScale(p,i)+9.5;
      const cy=1403;
      const t=mk(g,'text',{x:cx,y:cy,'text-anchor':'middle','dominant-baseline':'central','font-size':29.5,transform:'rotate(-45 '+cx+' '+cy+')'});
      
      
      t.textContent=m;
    });
  }
});
// odd extra top ticks above panel (e)
(function(){
  const p=panels[4];
  const extra=[1.25,2.25];
  extra.forEach(function(t){
    const x=xScale(p,t);
    const l=mk(plots,'line',{x1:x,x2:x,y1:p.T-22,y2:p.T,stroke:'#333','stroke-width':1.7});
    
    
  });
})();
// colorbar
(function(){
  const cb=document.getElementById('colorbar');
  const L=277,R=1687,T=1475,B=1544;
  const w=(R-L)/levelColors.length;
  levelColors.forEach(function(c,i){
    const r=mk(cb,'rect',{x:L+i*w,y:T,width:w+0.4,height:B-T,fill:c});
    
    
  });
  const o=mk(cb,'rect',{x:L,y:T,width:R-L,height:B-T,fill:'none',stroke:'#333','stroke-width':2});
  
  
  saodLevels.forEach(function(s,i){
    const t=mk(cb,'text',{x:L+(i+1)*w+1,y:1592.5,'text-anchor':'middle','font-size':37});
    
    
    t.textContent=s;
  });
})();
</script>
</body>
</html>
